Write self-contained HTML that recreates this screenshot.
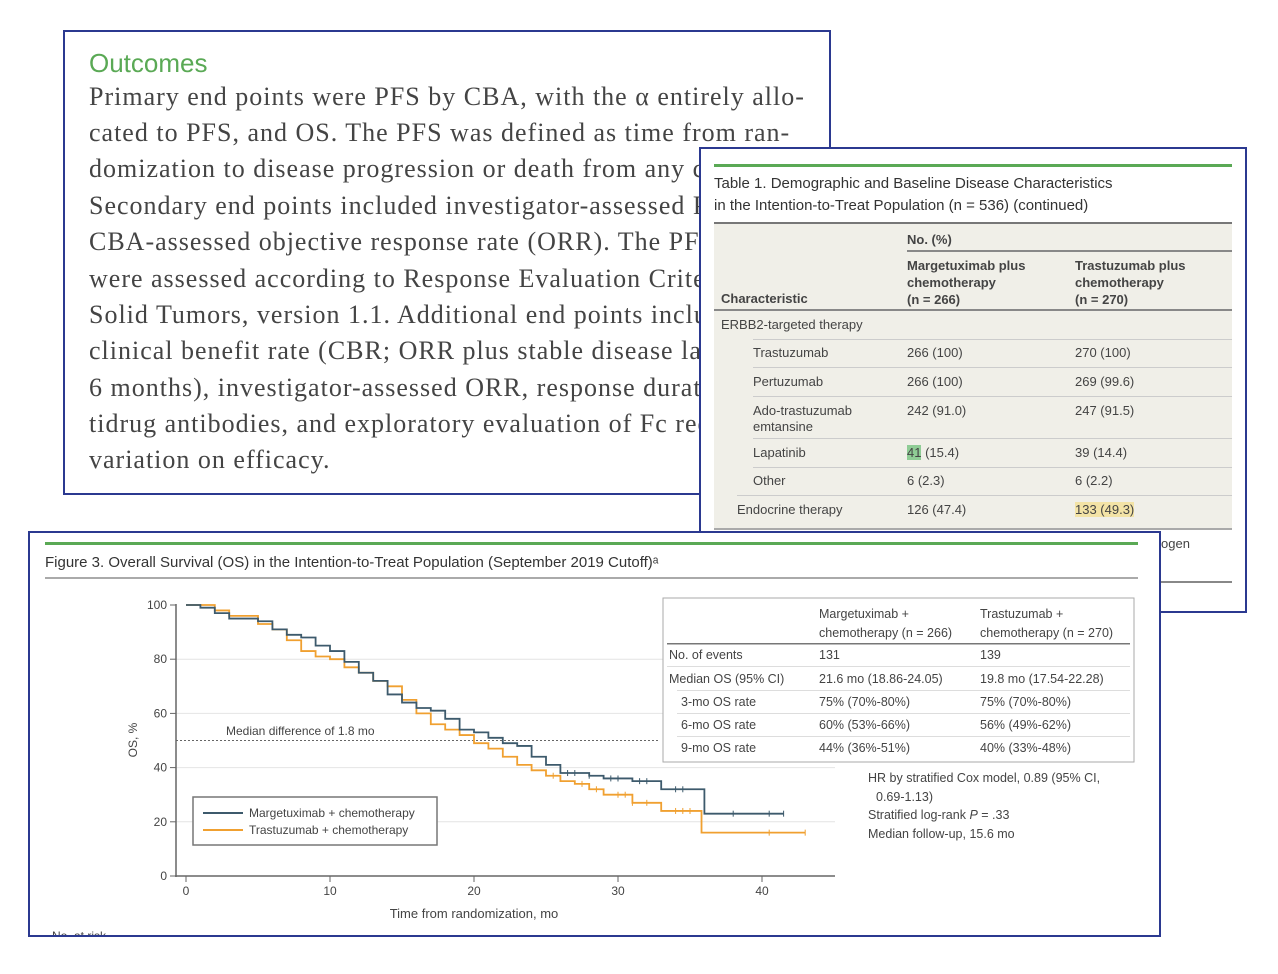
<!DOCTYPE html>
<html><head><meta charset="utf-8"><style>
body{margin:0;width:1278px;height:974px;background:#fff;position:relative;overflow:hidden;font-family:"Liberation Sans",sans-serif}
.box{position:absolute;background:#fff;border:2px solid #2b3990;box-sizing:border-box;overflow:hidden}
.ser{font-family:"Liberation Serif",serif;font-size:26px;color:#444;position:absolute;left:24px;white-space:nowrap;letter-spacing:1px}
.nar{font-family:"Liberation Sans Narrow","Liberation Sans",sans-serif}
.tt{position:absolute;font-size:13px;color:#444;white-space:nowrap}
</style></head><body>
<div class="box" style="left:63px;top:30px;width:768px;height:465px">
<div class="nar" style="position:absolute;left:24px;top:16px;font-size:26px;color:#5aa955">Outcomes</div>
<div class="ser" style="top:50px">Primary end points were PFS by CBA, with the α entirely allo-</div>
<div class="ser" style="top:86px">cated to PFS, and OS. The PFS was defined as time from ran-</div>
<div class="ser" style="top:122px">domization to disease progression or death from any cause.</div>
<div class="ser" style="top:159px">Secondary end points included investigator-assessed PFS and</div>
<div class="ser" style="top:195px">CBA-assessed objective response rate (ORR). The PFS and ORR</div>
<div class="ser" style="top:232px">were assessed according to Response Evaluation Criteria in</div>
<div class="ser" style="top:268px">Solid Tumors, version 1.1. Additional end points included</div>
<div class="ser" style="top:304px">clinical benefit rate (CBR; ORR plus stable disease lasting ≥</div>
<div class="ser" style="top:341px">6 months), investigator-assessed ORR, response duration, an-</div>
<div class="ser" style="top:377px">tidrug antibodies, and exploratory evaluation of Fc receptor</div>
<div class="ser" style="top:413px">variation on efficacy.</div>
</div>

<div class="box" style="left:699px;top:147px;width:548px;height:466px">
<div style="position:absolute;left:13px;top:15px;width:518px;height:3px;background:#5aa955"></div>
<div class="tt nar" style="left:13px;top:24px;font-size:15px;color:#333;line-height:22px">Table 1. Demographic and Baseline Disease Characteristics<br>in the Intention-to-Treat Population (n = 536) (continued)</div>
<div style="position:absolute;left:13px;top:73px;width:518px;height:304px;background:#f0efe8;border-top:2px solid #777;border-bottom:2px solid #aaa"></div>
<div class="tt nar" style="left:206px;top:83px;font-weight:bold">No. (%)</div>
<div style="position:absolute;left:206px;top:101px;width:325px;height:2px;background:#888"></div>
<div class="tt nar" style="left:206px;top:108px;line-height:17px;font-weight:bold">Margetuximab plus<br>chemotherapy<br>(n = 266)</div>
<div class="tt nar" style="left:374px;top:108px;line-height:17px;font-weight:bold">Trastuzumab plus<br>chemotherapy<br>(n = 270)</div>
<div class="tt nar" style="left:20px;top:142px;font-weight:bold">Characteristic</div>
<div style="position:absolute;left:13px;top:160px;width:518px;height:2px;background:#888"></div>
<div class="tt nar" style="left:20px;top:168px">ERBB2-targeted therapy</div>
<div class="tt nar" style="left:52px;top:196px">Trastuzumab</div><div class="tt nar" style="left:206px;top:196px">266 (100)</div><div class="tt nar" style="left:374px;top:196px">270 (100)</div>
<div class="tt nar" style="left:52px;top:225px">Pertuzumab</div><div class="tt nar" style="left:206px;top:225px">266 (100)</div><div class="tt nar" style="left:374px;top:225px">269 (99.6)</div>
<div class="tt nar" style="left:52px;top:254px;line-height:16px">Ado-trastuzumab<br>emtansine</div><div class="tt nar" style="left:206px;top:254px">242 (91.0)</div><div class="tt nar" style="left:374px;top:254px">247 (91.5)</div>
<div class="tt nar" style="left:52px;top:296px">Lapatinib</div><div class="tt nar" style="left:206px;top:296px"><span style="background:#8fcc95">41</span> (15.4)</div><div class="tt nar" style="left:374px;top:296px">39 (14.4)</div>
<div class="tt nar" style="left:52px;top:324px">Other</div><div class="tt nar" style="left:206px;top:324px">6 (2.3)</div><div class="tt nar" style="left:374px;top:324px">6 (2.2)</div>
<div class="tt nar" style="left:36px;top:353px">Endocrine therapy</div><div class="tt nar" style="left:206px;top:353px">126 (47.4)</div><div class="tt nar" style="left:374px;top:353px"><span style="background:#f3e3a6">133 (49.3)</span></div>
<div style="position:absolute;left:52px;top:190px;width:479px;height:1px;background:#ccc"></div>
<div style="position:absolute;left:52px;top:218px;width:479px;height:1px;background:#ccc"></div>
<div style="position:absolute;left:52px;top:247px;width:479px;height:1px;background:#ccc"></div>
<div style="position:absolute;left:52px;top:289px;width:479px;height:1px;background:#ccc"></div>
<div style="position:absolute;left:52px;top:318px;width:479px;height:1px;background:#ccc"></div>
<div style="position:absolute;left:36px;top:346px;width:495px;height:1px;background:#ccc"></div>
<div class="tt nar" style="left:460px;top:387px">ogen</div>
<div style="position:absolute;left:420px;top:432px;width:111px;height:2px;background:#888"></div>
</div>

<div class="box" style="left:28px;top:531px;width:1133px;height:406px">
<svg width="1133" height="406" viewBox="28 531 1133 406" style="position:absolute;left:-2px;top:-2px" id="chart">
<rect x="45" y="542" width="1093" height="3" fill="#5aa955"/>
<text x="45" y="567" font-size="15" fill="#333" font-family="Liberation Sans Narrow, Liberation Sans, sans-serif">Figure 3. Overall Survival (OS) in the Intention-to-Treat Population (September 2019 Cutoff)ᵃ</text>
<rect x="45" y="577" width="1093" height="2" fill="#aaa"/>
<g id="grid"></g><g id="axes"></g><g id="curves"></g>
<text x="226" y="735" font-size="12" fill="#444">Median difference of 1.8 mo</text>
<text x="474" y="918" font-size="13" fill="#444" text-anchor="middle">Time from randomization, mo</text>
<text transform="translate(137,740) rotate(-90)" font-size="12" fill="#444" text-anchor="middle">OS, %</text>
<text x="52" y="940" font-size="12" fill="#444">No. at risk</text>
<g>
<rect x="193" y="797" width="244" height="48" fill="#fff" stroke="#777" stroke-width="1.5"/>
<line x1="203" y1="813" x2="243" y2="813" stroke="#3d5a6c" stroke-width="2"/>
<text x="249" y="817" font-size="12" fill="#444">Margetuximab + chemotherapy</text>
<line x1="203" y1="830" x2="243" y2="830" stroke="#f0a030" stroke-width="2"/>
<text x="249" y="834" font-size="12" fill="#444">Trastuzumab + chemotherapy</text>
</g>
<g font-size="12.5" fill="#444">
<rect x="663" y="598" width="471" height="164" fill="#fff" stroke="#aaa"/>
<text x="819" y="618">Margetuximab +</text><text x="819" y="637">chemotherapy (n = 266)</text>
<text x="980" y="618">Trastuzumab +</text><text x="980" y="637">chemotherapy (n = 270)</text>
<rect x="667" y="643" width="463" height="1.5" fill="#777"/>
<text x="669" y="659">No. of events</text><text x="819" y="659">131</text><text x="980" y="659">139</text>
<rect x="667" y="666" width="463" height="1" fill="#ddd"/>
<text x="669" y="683">Median OS (95% CI)</text><text x="819" y="683">21.6 mo (18.86-24.05)</text><text x="980" y="683">19.8 mo (17.54-22.28)</text>
<rect x="677" y="690" width="453" height="1" fill="#ddd"/>
<text x="681" y="706">3-mo OS rate</text><text x="819" y="706">75% (70%-80%)</text><text x="980" y="706">75% (70%-80%)</text>
<rect x="677" y="713" width="453" height="1" fill="#ddd"/>
<text x="681" y="729">6-mo OS rate</text><text x="819" y="729">60% (53%-66%)</text><text x="980" y="729">56% (49%-62%)</text>
<rect x="677" y="736" width="453" height="1" fill="#ddd"/>
<text x="681" y="752">9-mo OS rate</text><text x="819" y="752">44% (36%-51%)</text><text x="980" y="752">40% (33%-48%)</text>
</g>
<g font-size="12.5" fill="#444">
<text x="868" y="782">HR by stratified Cox model, 0.89 (95% CI,</text>
<text x="876" y="801">0.69-1.13)</text>
<text x="868" y="819">Stratified log-rank <tspan font-style="italic">P</tspan> = .33</text>
<text x="868" y="838">Median follow-up, 15.6 mo</text>
</g>
</svg>
</div>
<script>
const xTicks=[0,10,20,30,40];
const yTicks=[0,20,40,60,80,100];
const margT=[0,1,2,3,5,6,7,8,9,10,11,12,13,14,15,16,17,18,19,20,21,22,23,24,25,26,28,29,31,33,36,41.5];
const margS=[100,99,97,95,94,91,89,88,85,83,79,75,72,67,64,62,61,58,54,53,51,49,48,44,41,38,37,36,35,32,23,23];
const trasT=[0,1,2,3,5,6,7,8,9,10,11,12,13,14,15,16,17,18,19,20,21,22,23,24,25,26,27,28,29,31,33,35.8,43];
const trasS=[100,100,98,96,93,91,87,83,81,80,77,75,72,70,65,60,56,54,52,49,47,44,41,39,37,35,34,32,30,27,24,16,16];
const margCens=[26.5,27,28,29.5,30,31.5,32,34,34.5,38,40.5,41.5];
const trasCens=[25.5,27.5,28.5,30,30.5,31,32,34,34.5,35,40.5,43];
const X=t=>186+t*14.4, Y=s=>876-s*2.71;
const NS='http://www.w3.org/2000/svg';
function mk(tag,attrs,parent){const e=document.createElementNS(NS,tag);for(const k in attrs)e.setAttribute(k,attrs[k]);parent.appendChild(e);return e;}
const grid=document.getElementById('grid'),axes=document.getElementById('axes'),curves=document.getElementById('curves');
yTicks.forEach(v=>{
 if(v>0&&v<100){const g=mk('line',{x1:176,x2:835,y1:Y(v),y2:Y(v),stroke:'#e4e4e4','stroke-width':1},grid);
 
 }
 mk('line',{x1:170,x2:176,y1:Y(v),y2:Y(v),stroke:'#666'},axes);
 const t=mk('text',{x:167,y:Y(v)+4,'font-size':12,fill:'#444','text-anchor':'end'},axes);t.textContent=v;
 
 
});
xTicks.forEach(v=>{
 mk('line',{x1:X(v),x2:X(v),y1:876,y2:882,stroke:'#666'},axes);
 const t=mk('text',{x:X(v),y:895,'font-size':12,fill:'#444','text-anchor':'middle'},axes);t.textContent=v;
 
 
});
mk('line',{x1:176,x2:176,y1:604,y2:877,stroke:'#666','stroke-width':1.5},axes);
mk('line',{x1:175,x2:835,y1:876,y2:876,stroke:'#666','stroke-width':1.5},axes);
const med=mk('line',{x1:176,x2:658,y1:Y(50),y2:Y(50),stroke:'#666','stroke-dasharray':'2,2'},axes);


function stepVal(T,S,t){let v=S[0];for(let i=0;i<T.length;i++){if(T[i]<=t)v=S[i];}return v;}
function drawCurve(T,S,C,color,name){
 let d='M'+X(T[0])+','+Y(S[0]);
 for(let i=1;i<T.length;i++){d+=' H'+X(T[i])+' V'+Y(S[i]);}
 const p=mk('path',{d:d,fill:'none',stroke:color,'stroke-width':1.8},curves);
 
 
 C.forEach(c=>{const y=Y(stepVal(T,S,c));
  const m=mk('line',{x1:X(c),x2:X(c),y1:y-3,y2:y+3,stroke:color,'stroke-width':1},curves);
  
  });
}
drawCurve(trasT,trasS,trasCens,'#f0a030','trastuzumab-curve');
drawCurve(margT,margS,margCens,'#3d5a6c','margetuximab-curve');
</script>
</body></html>
